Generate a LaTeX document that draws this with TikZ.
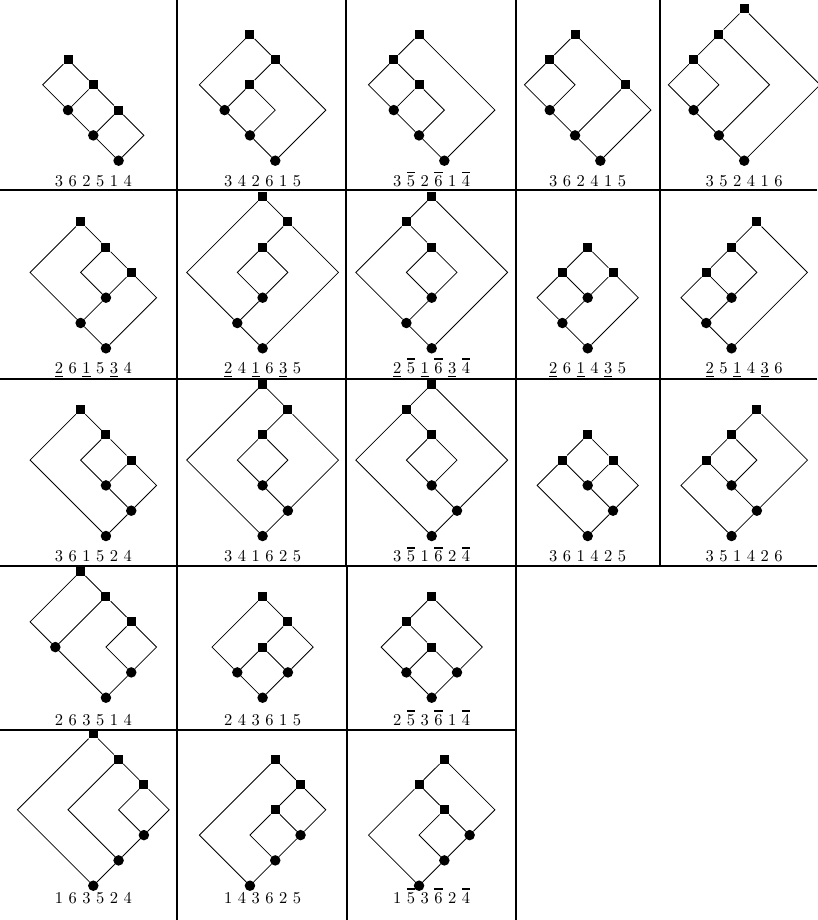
\documentclass[tikz,border=0pt]{standalone}
\usepackage{fontspec}
\newfontfamily\labf{lmroman10-regular.otf}
\newcommand{\olbar}[1]{\rlap{\rule[0.80em]{0.5em}{0.1em}}#1}
\newcommand{\ulbar}[1]{\rlap{\rule[-0.24em]{0.5em}{0.08em}}#1}
\tikzset{
  sq/.style={rectangle, fill=black, minimum size=9pt, inner sep=0pt},
  dot/.style={circle, fill=black, minimum size=10.5pt, inner sep=0pt},
  edge/.style={line width=0.8pt, line join=miter},
  tablerule/.style={line width=2pt},
  lab/.style={anchor=base, inner sep=0pt, font=\labf\fontsize{16.5}{20}\selectfont},
  lat/.style={x=25.3pt, y=-25.3pt}
}
\begin{document}
\begin{tikzpicture}[x=1pt,y=-1pt]
\useasboundingbox (0,0) rectangle (817,920);
\fill[white] (0,0) rectangle (817,920);

% ---------- table rules ----------
\draw[tablerule] (0,190) -- (817,190);
\draw[tablerule] (0,378.5) -- (817,378.5);
\draw[tablerule] (0,566) -- (817,566);
\draw[tablerule] (0,730) -- (516,730);
\foreach \xx in {177,346,515.5,660} {\draw[tablerule] (\xx,0) -- (\xx,566);}
\foreach \xx in {177,347,516} {\draw[tablerule] (\xx,566) -- (\xx,920);}

% ---------- D1 : 3 6 2 5 1 4 ----------
\begin{scope}[shift={(68.0,59.5)}, lat]
 \node[sq] (d1s1) at (0,0) {}; \node[sq] (d1s2) at (1,1) {}; \node[sq] (d1s3) at (2,2) {};
 \node[dot] (d1c1) at (0,2) {}; \node[dot] (d1c2) at (1,3) {}; \node[dot] (d1c3) at (2,4) {};
 \coordinate (d1l) at (-1,1); \coordinate (d1r) at (3,3);
 \draw[edge] (d1s1) -- (d1l) -- (d1c1);
 \draw[edge] (d1s1) -- (d1s2); \draw[edge] (d1s2) -- (d1c1); \draw[edge] (d1s2) -- (d1s3);
 \draw[edge] (d1c1) -- (d1c2); \draw[edge] (d1s3) -- (d1c2); \draw[edge] (d1c2) -- (d1c3);
 \draw[edge] (d1s3) -- (d1r) -- (d1c3);
\end{scope}

% ---------- D2 : 3 4 2 6 1 5 ----------
\begin{scope}[shift={(249.95,34.2)}, lat]
 \node[sq] (d2s1) at (0,0) {}; \node[sq] (d2s2) at (1,1) {}; \node[sq] (d2s3) at (0,2) {};
 \node[dot] (d2c1) at (-1,3) {}; \node[dot] (d2c2) at (0,4) {}; \node[dot] (d2c3) at (1,5) {};
 \coordinate (d2l) at (-2,2); \coordinate (d2m) at (1,3); \coordinate (d2r) at (3,3);
 \draw[edge] (d2s1) -- (d2l) -- (d2c1);
 \draw[edge] (d2s1) -- (d2s2); \draw[edge] (d2s2) -- (d2s3); \draw[edge] (d2s3) -- (d2c1);
 \draw[edge] (d2s3) -- (d2m) -- (d2c2);
 \draw[edge] (d2c1) -- (d2c2); \draw[edge] (d2c2) -- (d2c3);
 \draw[edge] (d2s2) -- (d2r) -- (d2c3);
\end{scope}

% ---------- D3 : 3 5b 2 6b 1 4b ----------
\begin{scope}[shift={(419.05,34.2)}, lat]
 \node[sq] (d3s1) at (0,0) {}; \node[sq] (d3s2) at (-1,1) {}; \node[sq] (d3s3) at (0,2) {};
 \node[dot] (d3c1) at (-1,3) {}; \node[dot] (d3c2) at (0,4) {}; \node[dot] (d3c3) at (1,5) {};
 \coordinate (d3l) at (-2,2); \coordinate (d3m) at (1,3); \coordinate (d3r) at (3,3);
 \draw[edge] (d3s1) -- (d3s2); \draw[edge] (d3s2) -- (d3l) -- (d3c1);
 \draw[edge] (d3s2) -- (d3s3); \draw[edge] (d3s3) -- (d3c1);
 \draw[edge] (d3s3) -- (d3m) -- (d3c2);
 \draw[edge] (d3c1) -- (d3c2); \draw[edge] (d3c2) -- (d3c3);
 \draw[edge] (d3s1) -- (d3r) -- (d3c3);
\end{scope}

% ---------- D4 : 3 6 2 4 1 5 ----------
\begin{scope}[shift={(575.05,34.2)}, lat]
 \node[sq] (d4s1) at (0,0) {}; \node[sq] (d4s2) at (-1,1) {}; \node[sq] (d4s3) at (2,2) {};
 \node[dot] (d4c1) at (-1,3) {}; \node[dot] (d4c2) at (0,4) {}; \node[dot] (d4c3) at (1,5) {};
 \coordinate (d4l) at (-2,2); \coordinate (d4m) at (0,2); \coordinate (d4r) at (3,3);
 \draw[edge] (d4s1) -- (d4s2); \draw[edge] (d4s2) -- (d4l) -- (d4c1);
 \draw[edge] (d4s2) -- (d4m) -- (d4c1);
 \draw[edge] (d4c1) -- (d4c2); \draw[edge] (d4c2) -- (d4c3);
 \draw[edge] (d4s1) -- (d4s3); \draw[edge] (d4s3) -- (d4c2);
 \draw[edge] (d4s3) -- (d4r) -- (d4c3);
\end{scope}

% ---------- D5 : 3 5 2 4 1 6 ----------
\begin{scope}[shift={(744.2,8.9)}, lat]
 \node[sq] (d5s1) at (0,0) {}; \node[sq] (d5s2) at (-1,1) {}; \node[sq] (d5s3) at (-2,2) {};
 \node[dot] (d5c1) at (-2,4) {}; \node[dot] (d5c2) at (-1,5) {}; \node[dot] (d5c3) at (0,6) {};
 \coordinate (d5l) at (-3,3); \coordinate (d5m) at (-1,3); \coordinate (d5n) at (1,3); \coordinate (d5r) at (3,3);
 \draw[edge] (d5s1) -- (d5s2); \draw[edge] (d5s2) -- (d5s3);
 \draw[edge] (d5s3) -- (d5l) -- (d5c1); \draw[edge] (d5s3) -- (d5m) -- (d5c1);
 \draw[edge] (d5c1) -- (d5c2); \draw[edge] (d5s2) -- (d5n) -- (d5c2);
 \draw[edge] (d5c2) -- (d5c3); \draw[edge] (d5s1) -- (d5r) -- (d5c3);
\end{scope}

% ---------- D6 : 2u 6 1u 5 3u 4 ----------
\begin{scope}[shift={(80.65,221.8)}, lat]
 \node[sq] (d6s1) at (0,0) {}; \node[sq] (d6s2) at (1,1) {}; \node[sq] (d6s3) at (2,2) {};
 \node[dot] (d6c1) at (1,3) {}; \node[dot] (d6c2) at (0,4) {}; \node[dot] (d6c3) at (1,5) {};
 \coordinate (d6l) at (-2,2); \coordinate (d6m) at (0,2); \coordinate (d6r) at (3,3);
 \draw[edge] (d6s1) -- (d6l) -- (d6c2);
 \draw[edge] (d6s1) -- (d6s2); \draw[edge] (d6s2) -- (d6m) -- (d6c1);
 \draw[edge] (d6s2) -- (d6s3); \draw[edge] (d6s3) -- (d6c1);
 \draw[edge] (d6c1) -- (d6c2); \draw[edge] (d6c2) -- (d6c3);
 \draw[edge] (d6s3) -- (d6r) -- (d6c3);
\end{scope}

% ---------- D7 : 2u 4 1u 6 3u 5 ----------
\begin{scope}[shift={(262.6,196.5)}, lat]
 \node[sq] (d7s1) at (0,0) {}; \node[sq] (d7s2) at (1,1) {}; \node[sq] (d7s3) at (0,2) {};
 \node[dot] (d7c1) at (0,4) {}; \node[dot] (d7c2) at (-1,5) {}; \node[dot] (d7c3) at (0,6) {};
 \coordinate (d7l) at (-3,3); \coordinate (d7m) at (-1,3); \coordinate (d7n) at (1,3); \coordinate (d7r) at (3,3);
 \draw[edge] (d7s1) -- (d7l) -- (d7c2);
 \draw[edge] (d7s1) -- (d7s2); \draw[edge] (d7s2) -- (d7s3);
 \draw[edge] (d7s3) -- (d7m) -- (d7c1); \draw[edge] (d7s3) -- (d7n) -- (d7c1);
 \draw[edge] (d7c1) -- (d7c2); \draw[edge] (d7c2) -- (d7c3);
 \draw[edge] (d7s2) -- (d7r) -- (d7c3);
\end{scope}

% ---------- D8 : 2u 5b 1u 6b 3u 4b ----------
\begin{scope}[shift={(431.7,196.5)}, lat]
 \node[sq] (d8s1) at (0,0) {}; \node[sq] (d8s2) at (-1,1) {}; \node[sq] (d8s3) at (0,2) {};
 \node[dot] (d8c1) at (0,4) {}; \node[dot] (d8c2) at (-1,5) {}; \node[dot] (d8c3) at (0,6) {};
 \coordinate (d8l) at (-3,3); \coordinate (d8m) at (-1,3); \coordinate (d8n) at (1,3); \coordinate (d8r) at (3,3);
 \draw[edge] (d8s1) -- (d8s2); \draw[edge] (d8s2) -- (d8l) -- (d8c2);
 \draw[edge] (d8s2) -- (d8s3);
 \draw[edge] (d8s3) -- (d8m) -- (d8c1); \draw[edge] (d8s3) -- (d8n) -- (d8c1);
 \draw[edge] (d8c1) -- (d8c2); \draw[edge] (d8c2) -- (d8c3);
 \draw[edge] (d8s1) -- (d8r) -- (d8c3);
\end{scope}

% ---------- D9 : 2u 6 1u 4 3u 5 ----------
\begin{scope}[shift={(587.7,247.1)}, lat]
 \node[sq] (d9s1) at (0,0) {}; \node[sq] (d9s2) at (-1,1) {}; \node[sq] (d9s3) at (1,1) {};
 \node[dot] (d9c1) at (0,2) {}; \node[dot] (d9c2) at (-1,3) {}; \node[dot] (d9c3) at (0,4) {};
 \coordinate (d9l) at (-2,2); \coordinate (d9r) at (2,2);
 \draw[edge] (d9s1) -- (d9s2); \draw[edge] (d9s1) -- (d9s3);
 \draw[edge] (d9s2) -- (d9l) -- (d9c2); \draw[edge] (d9s2) -- (d9c1); \draw[edge] (d9s3) -- (d9c1);
 \draw[edge] (d9c1) -- (d9c2); \draw[edge] (d9c2) -- (d9c3);
 \draw[edge] (d9s3) -- (d9r) -- (d9c3);
\end{scope}

% ---------- D10 : 2u 5 1u 4 3u 6 ----------
\begin{scope}[shift={(756.85,221.8)}, lat]
 \node[sq] (d10s1) at (0,0) {}; \node[sq] (d10s2) at (-1,1) {}; \node[sq] (d10s3) at (-2,2) {};
 \node[dot] (d10c1) at (-1,3) {}; \node[dot] (d10c2) at (-2,4) {}; \node[dot] (d10c3) at (-1,5) {};
 \coordinate (d10l) at (-3,3); \coordinate (d10m) at (0,2); \coordinate (d10r) at (2,2);
 \draw[edge] (d10s1) -- (d10s2); \draw[edge] (d10s2) -- (d10s3);
 \draw[edge] (d10s3) -- (d10l) -- (d10c2); \draw[edge] (d10s3) -- (d10c1);
 \draw[edge] (d10s2) -- (d10m) -- (d10c1);
 \draw[edge] (d10c1) -- (d10c2); \draw[edge] (d10c2) -- (d10c3);
 \draw[edge] (d10s1) -- (d10r) -- (d10c3);
\end{scope}

% ---------- D11 : 3 6 1 5 2 4 ----------
\begin{scope}[shift={(80.65,409.5)}, lat]
 \node[sq] (d11s1) at (0,0) {}; \node[sq] (d11s2) at (1,1) {}; \node[sq] (d11s3) at (2,2) {};
 \node[dot] (d11c1) at (1,3) {}; \node[dot] (d11c2) at (2,4) {}; \node[dot] (d11c3) at (1,5) {};
 \coordinate (d11l) at (-2,2); \coordinate (d11m) at (0,2); \coordinate (d11r) at (3,3);
 \draw[edge] (d11s1) -- (d11l) -- (d11c3);
 \draw[edge] (d11s1) -- (d11s2); \draw[edge] (d11s2) -- (d11m) -- (d11c1);
 \draw[edge] (d11s2) -- (d11s3); \draw[edge] (d11s3) -- (d11c1);
 \draw[edge] (d11c1) -- (d11c2); \draw[edge] (d11s3) -- (d11r) -- (d11c2);
 \draw[edge] (d11c2) -- (d11c3);
\end{scope}

% ---------- D12 : 3 4 1 6 2 5 ----------
\begin{scope}[shift={(262.6,384.2)}, lat]
 \node[sq] (d12s1) at (0,0) {}; \node[sq] (d12s2) at (1,1) {}; \node[sq] (d12s3) at (0,2) {};
 \node[dot] (d12c1) at (0,4) {}; \node[dot] (d12c2) at (1,5) {}; \node[dot] (d12c3) at (0,6) {};
 \coordinate (d12l) at (-3,3); \coordinate (d12m) at (-1,3); \coordinate (d12n) at (1,3); \coordinate (d12r) at (3,3);
 \draw[edge] (d12s1) -- (d12l) -- (d12c3);
 \draw[edge] (d12s1) -- (d12s2); \draw[edge] (d12s2) -- (d12s3);
 \draw[edge] (d12s3) -- (d12m) -- (d12c1); \draw[edge] (d12s3) -- (d12n) -- (d12c1);
 \draw[edge] (d12c1) -- (d12c2); \draw[edge] (d12s2) -- (d12r) -- (d12c2);
 \draw[edge] (d12c2) -- (d12c3);
\end{scope}

% ---------- D13 : 3 5b 1 6b 2 4b ----------
\begin{scope}[shift={(431.7,384.2)}, lat]
 \node[sq] (d13s1) at (0,0) {}; \node[sq] (d13s2) at (-1,1) {}; \node[sq] (d13s3) at (0,2) {};
 \node[dot] (d13c1) at (0,4) {}; \node[dot] (d13c2) at (1,5) {}; \node[dot] (d13c3) at (0,6) {};
 \coordinate (d13l) at (-3,3); \coordinate (d13m) at (-1,3); \coordinate (d13n) at (1,3); \coordinate (d13r) at (3,3);
 \draw[edge] (d13s1) -- (d13s2); \draw[edge] (d13s2) -- (d13l) -- (d13c3);
 \draw[edge] (d13s2) -- (d13s3);
 \draw[edge] (d13s3) -- (d13m) -- (d13c1); \draw[edge] (d13s3) -- (d13n) -- (d13c1);
 \draw[edge] (d13c1) -- (d13c2); \draw[edge] (d13s1) -- (d13r) -- (d13c2);
 \draw[edge] (d13c2) -- (d13c3);
\end{scope}

% ---------- D14 : 3 6 1 4 2 5 ----------
\begin{scope}[shift={(587.7,434.8)}, lat]
 \node[sq] (d14s1) at (0,0) {}; \node[sq] (d14s2) at (-1,1) {}; \node[sq] (d14s3) at (1,1) {};
 \node[dot] (d14c1) at (0,2) {}; \node[dot] (d14c2) at (1,3) {}; \node[dot] (d14c3) at (0,4) {};
 \coordinate (d14l) at (-2,2); \coordinate (d14r) at (2,2);
 \draw[edge] (d14s1) -- (d14s2); \draw[edge] (d14s1) -- (d14s3);
 \draw[edge] (d14s2) -- (d14l) -- (d14c3); \draw[edge] (d14s2) -- (d14c1); \draw[edge] (d14s3) -- (d14c1);
 \draw[edge] (d14s3) -- (d14r) -- (d14c2);
 \draw[edge] (d14c1) -- (d14c2); \draw[edge] (d14c2) -- (d14c3);
\end{scope}

% ---------- D15 : 3 5 1 4 2 6 ----------
\begin{scope}[shift={(756.85,409.5)}, lat]
 \node[sq] (d15s1) at (0,0) {}; \node[sq] (d15s2) at (-1,1) {}; \node[sq] (d15s3) at (-2,2) {};
 \node[dot] (d15c1) at (-1,3) {}; \node[dot] (d15c2) at (0,4) {}; \node[dot] (d15c3) at (-1,5) {};
 \coordinate (d15l) at (-3,3); \coordinate (d15m) at (0,2); \coordinate (d15r) at (2,2);
 \draw[edge] (d15s1) -- (d15s2); \draw[edge] (d15s2) -- (d15s3);
 \draw[edge] (d15s3) -- (d15l) -- (d15c3); \draw[edge] (d15s3) -- (d15c1);
 \draw[edge] (d15s2) -- (d15m) -- (d15c1);
 \draw[edge] (d15c1) -- (d15c2); \draw[edge] (d15s1) -- (d15r) -- (d15c2);
 \draw[edge] (d15c2) -- (d15c3);
\end{scope}

% ---------- D16 : 2 6 3 5 1 4 ----------
\begin{scope}[shift={(80.65,571.2)}, lat]
 \node[sq] (d16s1) at (0,0) {}; \node[sq] (d16s2) at (1,1) {}; \node[sq] (d16s3) at (2,2) {};
 \node[dot] (d16c1) at (-1,3) {}; \node[dot] (d16c2) at (2,4) {}; \node[dot] (d16c3) at (1,5) {};
 \coordinate (d16l) at (-2,2); \coordinate (d16m) at (1,3); \coordinate (d16r) at (3,3);
 \draw[edge] (d16s1) -- (d16l) -- (d16c1);
 \draw[edge] (d16s1) -- (d16s2); \draw[edge] (d16s2) -- (d16c1); \draw[edge] (d16s2) -- (d16s3);
 \draw[edge] (d16s3) -- (d16m) -- (d16c2); \draw[edge] (d16s3) -- (d16r) -- (d16c2);
 \draw[edge] (d16c1) -- (d16c3); \draw[edge] (d16c2) -- (d16c3);
\end{scope}

% ---------- D17 : 2 4 3 6 1 5 ----------
\begin{scope}[shift={(262.6,596.5)}, lat]
 \node[sq] (d17s1) at (0,0) {}; \node[sq] (d17s2) at (1,1) {}; \node[sq] (d17s3) at (0,2) {};
 \node[dot] (d17c1) at (-1,3) {}; \node[dot] (d17c2) at (1,3) {}; \node[dot] (d17c3) at (0,4) {};
 \coordinate (d17l) at (-2,2); \coordinate (d17r) at (2,2);
 \draw[edge] (d17s1) -- (d17l) -- (d17c1);
 \draw[edge] (d17s1) -- (d17s2); \draw[edge] (d17s2) -- (d17s3);
 \draw[edge] (d17s3) -- (d17c1); \draw[edge] (d17s3) -- (d17c2);
 \draw[edge] (d17s2) -- (d17r) -- (d17c2);
 \draw[edge] (d17c1) -- (d17c3); \draw[edge] (d17c2) -- (d17c3);
\end{scope}

% ---------- D18 : 2 5b 3 6b 1 4b ----------
\begin{scope}[shift={(431.7,596.5)}, lat]
 \node[sq] (d18s1) at (0,0) {}; \node[sq] (d18s2) at (-1,1) {}; \node[sq] (d18s3) at (0,2) {};
 \node[dot] (d18c1) at (-1,3) {}; \node[dot] (d18c2) at (1,3) {}; \node[dot] (d18c3) at (0,4) {};
 \coordinate (d18l) at (-2,2); \coordinate (d18r) at (2,2);
 \draw[edge] (d18s1) -- (d18s2); \draw[edge] (d18s2) -- (d18l) -- (d18c1);
 \draw[edge] (d18s2) -- (d18s3);
 \draw[edge] (d18s3) -- (d18c1); \draw[edge] (d18s3) -- (d18c2);
 \draw[edge] (d18s1) -- (d18r) -- (d18c2);
 \draw[edge] (d18c1) -- (d18c3); \draw[edge] (d18c2) -- (d18c3);
\end{scope}

% ---------- D19 : 1 6 3 5 2 4 ----------
\begin{scope}[shift={(93.3,733.9)}, lat]
 \node[sq] (d19s1) at (0,0) {}; \node[sq] (d19s2) at (1,1) {}; \node[sq] (d19s3) at (2,2) {};
 \node[dot] (d19c1) at (2,4) {}; \node[dot] (d19c2) at (1,5) {}; \node[dot] (d19c3) at (0,6) {};
 \coordinate (d19l) at (-3,3); \coordinate (d19m) at (-1,3); \coordinate (d19n) at (1,3); \coordinate (d19r) at (3,3);
 \draw[edge] (d19s1) -- (d19l) -- (d19c3);
 \draw[edge] (d19s1) -- (d19s2); \draw[edge] (d19s2) -- (d19m) -- (d19c2);
 \draw[edge] (d19s2) -- (d19s3);
 \draw[edge] (d19s3) -- (d19n) -- (d19c1); \draw[edge] (d19s3) -- (d19r) -- (d19c1);
 \draw[edge] (d19c1) -- (d19c2); \draw[edge] (d19c2) -- (d19c3);
\end{scope}

% ---------- D20 : 1 4 3 6 2 5 ----------
\begin{scope}[shift={(275.25,759.2)}, lat]
 \node[sq] (d20s1) at (0,0) {}; \node[sq] (d20s2) at (1,1) {}; \node[sq] (d20s3) at (0,2) {};
 \node[dot] (d20c1) at (1,3) {}; \node[dot] (d20c2) at (0,4) {}; \node[dot] (d20c3) at (-1,5) {};
 \coordinate (d20l) at (-3,3); \coordinate (d20m) at (-1,3); \coordinate (d20r) at (2,2);
 \draw[edge] (d20s1) -- (d20l) -- (d20c3);
 \draw[edge] (d20s1) -- (d20s2); \draw[edge] (d20s2) -- (d20s3);
 \draw[edge] (d20s3) -- (d20m) -- (d20c2); \draw[edge] (d20s3) -- (d20c1);
 \draw[edge] (d20s2) -- (d20r) -- (d20c1);
 \draw[edge] (d20c1) -- (d20c2); \draw[edge] (d20c2) -- (d20c3);
\end{scope}

% ---------- D21 : 1 5b 3 6b 2 4b ----------
\begin{scope}[shift={(444.35,759.2)}, lat]
 \node[sq] (d21s1) at (0,0) {}; \node[sq] (d21s2) at (-1,1) {}; \node[sq] (d21s3) at (0,2) {};
 \node[dot] (d21c1) at (1,3) {}; \node[dot] (d21c2) at (0,4) {}; \node[dot] (d21c3) at (-1,5) {};
 \coordinate (d21l) at (-3,3); \coordinate (d21m) at (-1,3); \coordinate (d21r) at (2,2);
 \draw[edge] (d21s1) -- (d21s2); \draw[edge] (d21s2) -- (d21l) -- (d21c3);
 \draw[edge] (d21s2) -- (d21s3);
 \draw[edge] (d21s3) -- (d21m) -- (d21c2); \draw[edge] (d21s3) -- (d21c1);
 \draw[edge] (d21s1) -- (d21r) -- (d21c1);
 \draw[edge] (d21c1) -- (d21c2); \draw[edge] (d21c2) -- (d21c3);
\end{scope}

% ---------- labels ----------
\node[lab] (t1)  at (93.3,186.7)  {3 6 2 5 1 4};
\node[lab] (t2)  at (262.6,186.7) {3 4 2 6 1 5};
\node[lab] (t3)  at (431.7,186.7) {3 \olbar{5} 2 \olbar{6} 1 \olbar{4}};
\node[lab] (t4)  at (587.7,186.7) {3 6 2 4 1 5};
\node[lab] (t5)  at (744.2,186.7) {3 5 2 4 1 6};

\node[lab] (t6)  at (93.3,373)  {\ulbar{2} 6 \ulbar{1} 5 \ulbar{3} 4};
\node[lab] (t7)  at (262.6,373) {\ulbar{2} 4 \ulbar{1} 6 \ulbar{3} 5};
\node[lab] (t8)  at (431.7,373) {\ulbar{2} \olbar{5} \ulbar{1} \olbar{6} \ulbar{3} \olbar{4}};
\node[lab] (t9)  at (587.7,373) {\ulbar{2} 6 \ulbar{1} 4 \ulbar{3} 5};
\node[lab] (t10) at (744.2,373) {\ulbar{2} 5 \ulbar{1} 4 \ulbar{3} 6};

\node[lab] (t11) at (93.3,561.7)  {3 6 1 5 2 4};
\node[lab] (t12) at (262.6,561.7) {3 4 1 6 2 5};
\node[lab] (t13) at (431.7,561.7) {3 \olbar{5} 1 \olbar{6} 2 \olbar{4}};
\node[lab] (t14) at (587.7,561.7) {3 6 1 4 2 5};
\node[lab] (t15) at (744.2,561.7) {3 5 1 4 2 6};

\node[lab] (t16) at (93.3,725)  {2 6 3 5 1 4};
\node[lab] (t17) at (262.6,725) {2 4 3 6 1 5};
\node[lab] (t18) at (431.7,725) {2 \olbar{5} 3 \olbar{6} 1 \olbar{4}};

\node[lab] (t19) at (93.3,903)  {1 6 3 5 2 4};
\node[lab] (t20) at (262.6,903) {1 4 3 6 2 5};
\node[lab] (t21) at (431.7,903) {1 \olbar{5} 3 \olbar{6} 2 \olbar{4}};
\end{tikzpicture}
\end{document}
